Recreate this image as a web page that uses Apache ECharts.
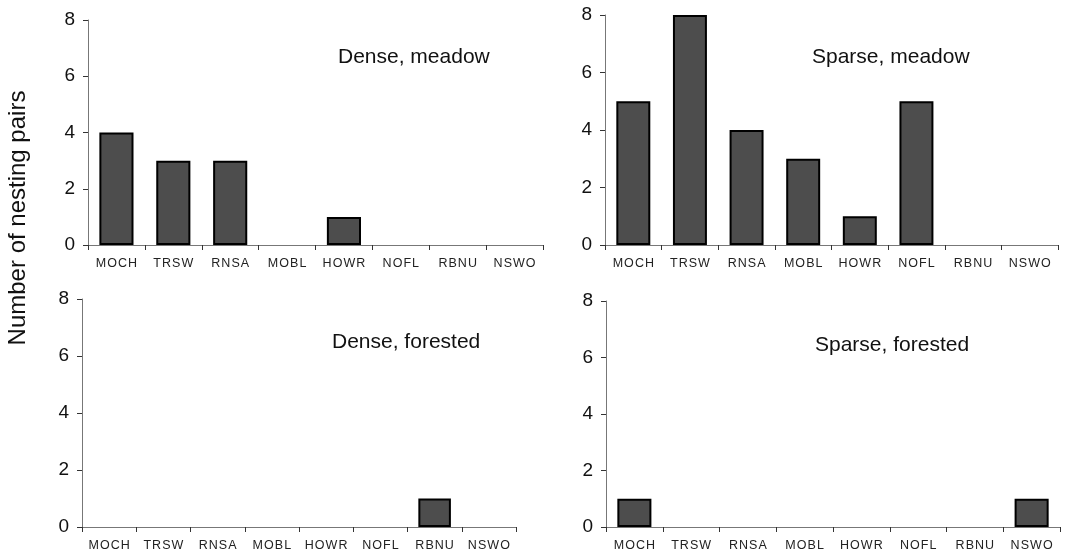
<!DOCTYPE html>
<html><head><meta charset="utf-8">
<script src="https://cdn.jsdelivr.net/npm/echarts@6/dist/echarts.min.js"></script>
<style>html,body{margin:0;padding:0;background:#fff}#c{width:1067px;height:557px}</style>
</head><body><div id="c"></div>
<script>
const categories = ['MOCH','TRSW','RNSA','MOBL','HOWR','NOFL','RBNU','NSWO'];
const denseMeadow = [4,3,3,0,1,0,0,0];
const sparseMeadow = [5,8,4,3,1,5,0,0];
const denseForested = [0,0,0,0,0,0,1,0];
const sparseForested = [1,0,0,0,0,0,0,1];
const yTicks = [0,2,4,6,8];
const panelTitles = ['Dense, meadow','Sparse, meadow','Dense, forested','Sparse, forested'];
const yTitle = 'Number of nesting pairs';

const grids = [
  {left:88, right:524, top:20, bottom:312},
  {left:605, right:9, top:15, bottom:312},
  {left:82, right:551, top:299, bottom:30},
  {left:606, right:7, top:301, bottom:30}
];
const seriesData = [denseMeadow, sparseMeadow, denseForested, sparseForested];
const titlePos = [
  {left:338, top:47}, {left:812, top:47}, {left:332, top:332}, {left:815, top:335}
];
const font = 'Liberation Sans, Arial, sans-serif';
const axisColor = '#777';

const option = {
  animation:false,
  backgroundColor:'#fff',
  title: panelTitles.map((t,i)=>({text:t, left:titlePos[i].left, top:titlePos[i].top, padding:0,
    textStyle:{fontFamily:font, fontSize:21, fontWeight:'normal', color:'#111'}})),
  graphic:[{type:'text', x:18, y:218, rotation:Math.PI/2,
    style:{text:yTitle, font:'24px '+font, fill:'#111', align:'center', verticalAlign:'middle'}}],
  grid: grids,
  xAxis: grids.map((g,i)=>({type:'category', gridIndex:i, data:categories,
    axisLine:{lineStyle:{color:axisColor, width:1}},
    axisTick:{show:true, alignWithLabel:false, length:5, lineStyle:{color:'#333'}},
    axisLabel:{fontFamily:font, fontSize:12.5, color:'#222', margin:12, interval:0,
      formatter:v=>v.split('').join('\u200A')},
    splitLine:{show:false}})),
  yAxis: grids.map((g,i)=>({type:'value', gridIndex:i, min:0, max:8, interval:2,
    axisLine:{show:true, lineStyle:{color:axisColor, width:1}},
    axisTick:{show:true, length:5, lineStyle:{color:'#333'}},
    axisLabel:{fontFamily:font, fontSize:19, color:'#111', margin:13,
      formatter:v=>yTicks.includes(v)?String(v):''},
    splitLine:{show:false}})),
  series: seriesData.map((d,i)=>({type:'bar', xAxisIndex:i, yAxisIndex:i,
    data:d.map(v=>v===0?{value:v, itemStyle:{borderWidth:0, opacity:0}}:v),
    barWidth:'60%',
    itemStyle:{color:'#4d4d4d', borderColor:'#000', borderWidth:2}}))
};
const chart = echarts.init(document.getElementById('c'), null, {renderer:'canvas'});
chart.setOption(option);
</script></body></html>
